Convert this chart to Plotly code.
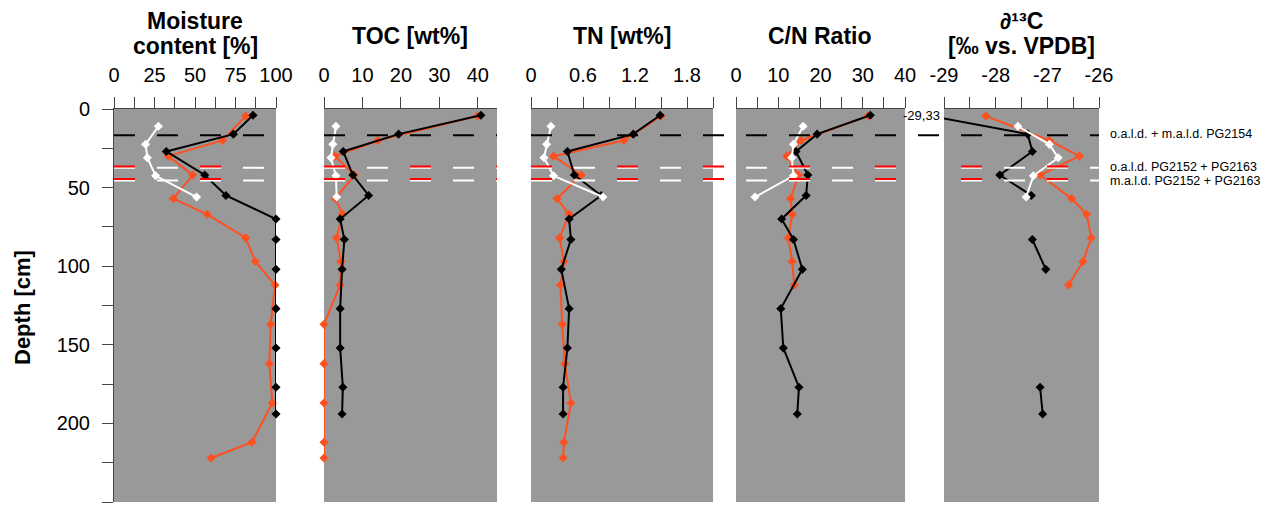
import plotly.graph_objects as go

# ---------------- data ----------------
depth_black = [4, 16, 27, 42, 55, 70, 83, 102, 127, 152, 177, 194]
depth_orange = [4.5, 20, 30, 42, 57, 67, 82, 97, 112, 137, 162, 187, 212, 222]
depth_white = [11, 22.5, 31, 42.5, 56]

moist_black = [85.8, 73.7, 32.3, 56.0, 69.1, 100, 100, 100, 100, 100, 100, 100]
moist_orange = [81.3, 66.9, 33.5, 48.6, 36.6, 57.6, 81.3, 87.2, 99.4, 96.7, 95.9, 97.7, 85.2, 59.9]
moist_white = [27.4, 19.5, 20.6, 25.7, 51.0]

toc_black = [40.8, 19.4, 5.0, 7.5, 11.6, 4.2, 5.3, 4.7, 4.2, 4.2, 4.9, 4.7]
toc_orange = [39.9, 14.0, 2.9, 7.9, 3.0, 4.8, 3.3, 4.4, 4.2, 0, 0, 0, 0, 0]
toc_white = [3.1, 2.3, 1.8, 3.1, 3.3]

tn_black = [1.49, 1.18, 0.42, 0.50, 0.81, 0.44, 0.46, 0.35, 0.44, 0.42, 0.37, 0.37]
tn_orange = [1.50, 1.07, 0.26, 0.58, 0.30, 0.44, 0.33, 0.38, 0.34, 0.36, 0.39, 0.46, 0.38, 0.37]
tn_white = [0.23, 0.18, 0.15, 0.26, 0.83]

cn_black = [31.8, 19.2, 14.2, 17.0, 16.6, 10.8, 13.6, 15.7, 10.6, 11.2, 14.9, 14.5]
cn_orange = [31.2, 15.4, 12.0, 14.8, 12.9, 13.3, 12.4, 13.3, 13.8, None, None, None, None, None]
cn_white = [15.9, 13.6, 13.2, 13.6, 4.5]

d13c_black = [-29.33, -27.38, -27.29, -27.92, -27.31, None, -27.29, -27.03, None, None, -27.14, -27.09]
d13c_orange = [-28.19, -26.96, -26.38, -27.14, -26.53, -26.24, -26.15, -26.31, -26.59, None, None, None, None, None]
d13c_white = [-27.57, -26.96, -26.79, -27.27, -27.41]

panel_titles = [["Moisture", "content [%]"], ["TOC [wt%]"], ["TN [wt%]"], ["C/N Ratio"],
                ["∂¹³C", "[‰ vs. VPDB]"]]
x_ranges = [[0, 100], [0, 45], [0, 2.1], [0, 40], [-29, -26]]
x_tickvals = [[0, 25, 50, 75, 100], [0, 10, 20, 30, 40], [0, 0.6, 1.2, 1.8], [0, 10, 20, 30, 40],
              [-29, -28, -27, -26]]
x_ticktext = [["0", "25", "50", "75", "100"], ["0", "10", "20", "30", "40"], ["0", "0.6", "1.2", "1.8"],
              ["0", "10", "20", "30", "40"], ["-29", "-28", "-27", "-26"]]
x_minor = [12.5, None, 0.3, 5, 0.5]
depth_tickvals = [0, 50, 100, 150, 200, 250]

boundary_black_depth = [16.7]
boundary_white_depth = [37.4, 45.5]
boundary_red_depth = [36.5, 44.6]
boundary_labels = ["o.a.l.d. + m.a.l.d. PG2154", "o.a.l.d. PG2152 + PG2163", "m.a.l.d. PG2152 + PG2163"]
offscale_label = "-29,33"

# ---------------- layout geometry (pixels) ----------------
W, H = 1270, 510
panels_px = [(114, 276), (324, 497), (531, 713), (736, 905), (944, 1099)]
y_top, y_bot = 109, 502
FONT = "Liberation Sans, Arial, sans-serif"
ORANGE = "#FF5020"
BG = "#999999"
AXC = "#444444"

fig = go.Figure()

series = [
    (moist_black, moist_orange, moist_white),
    (toc_black, toc_orange, toc_white),
    (tn_black, tn_orange, tn_white),
    (cn_black, cn_orange, cn_white),
    (d13c_black, d13c_orange, d13c_white),
]

for i, (blk, org, wht) in enumerate(series):
    n = i + 1
    xa = "x" if n == 1 else f"x{n}"
    ya = "y" if n == 1 else f"y{n}"
    clip_black = (n == 5)
    fig.add_trace(go.Scatter(x=org, y=depth_orange, xaxis=xa, yaxis=ya, mode="lines+markers",
                             line=dict(color=ORANGE, width=2), connectgaps=False,
                             marker=dict(symbol="diamond", size=7, color=ORANGE),
                             cliponaxis=False, hoverinfo="skip"))
    fig.add_trace(go.Scatter(x=blk, y=depth_black, xaxis=xa, yaxis=ya, mode="lines+markers",
                             line=dict(color="black", width=2), connectgaps=False,
                             marker=dict(symbol="diamond", size=7, color="black"),
                             cliponaxis=clip_black, hoverinfo="skip"))
    fig.add_trace(go.Scatter(x=wht, y=depth_white, xaxis=xa, yaxis=ya, mode="lines+markers",
                             line=dict(color="white", width=2),
                             marker=dict(symbol="diamond", size=7, color="white"),
                             cliponaxis=False, hoverinfo="skip"))

layout = dict(width=W, height=H, margin=dict(l=0, r=0, t=0, b=0, autoexpand=False),
              paper_bgcolor="white", plot_bgcolor=BG, showlegend=False,
              font=dict(family=FONT, size=20, color="black"))

ydom = [1 - y_bot / H, 1 - y_top / H]
for i in range(5):
    n = i + 1
    xk = "xaxis" if n == 1 else f"xaxis{n}"
    yk = "yaxis" if n == 1 else f"yaxis{n}"
    ya = "y" if n == 1 else f"y{n}"
    xa = "x" if n == 1 else f"x{n}"
    x0, x1 = panels_px[i]
    xax = dict(domain=[x0 / W, x1 / W], range=x_ranges[i], side="top", anchor=ya, automargin=False,
               showgrid=False, zeroline=False, showline=True, linecolor=AXC, linewidth=1,
               ticks="outside", ticklen=11, tickcolor=AXC, tickwidth=1,
               tickmode="array", tickvals=x_tickvals[i], ticktext=x_ticktext[i],
               tickfont=dict(size=20, family=FONT, color="black"), ticklabelstandoff=7)
    if x_minor[i]:
        xax["minor"] = dict(dtick=x_minor[i], tick0=x_ranges[i][0], ticks="outside", ticklen=11,
                            tickcolor=AXC, tickwidth=1, showgrid=False)
    layout[xk] = xax
    yax = dict(domain=ydom, range=[250, 0], anchor=xa, showgrid=False, zeroline=False, automargin=False)
    if n == 1:
        yax.update(showline=True, linecolor=AXC, linewidth=1, ticks="outside", ticklen=11, tickcolor=AXC,
                   tickmode="array", tickvals=depth_tickvals,
                   tickfont=dict(size=20, family=FONT, color="black"),
                   ticklabelstandoff=8,
                   minor=dict(dtick=25, tick0=0, ticks="outside", ticklen=11, tickcolor=AXC, showgrid=False))
    else:
        yax.update(showticklabels=False, ticks="")
    layout[yk] = yax

fig.update_layout(**layout)

# ---------------- boundary dashed lines ----------------
segments = [(114, 276), (324, 497), (531, 1099)]
shapes = []

def frac(d):
    return 1 - d / 250.0

for (s0, s1) in segments:
    for d in boundary_black_depth:
        shapes.append(dict(type="line", xref="paper", yref="y domain", x0=s0 / W, x1=s1 / W,
                           y0=frac(d), y1=frac(d), line=dict(color="black", width=2, dash="21px,22px")))
    for d in boundary_white_depth:
        shapes.append(dict(type="line", xref="paper", yref="y domain", x0=s0 / W, x1=s1 / W,
                           y0=frac(d), y1=frac(d), line=dict(color="white", width=2, dash="21px,22px")))
    for d in boundary_red_depth:
        shapes.append(dict(type="line", xref="paper", yref="y domain", x0=s0 / W, x1=s1 / W,
                           y0=frac(d), y1=frac(d), line=dict(color="#FF0000", width=2, dash="21px,65px")))
fig.update_layout(shapes=shapes)

# ---------------- text ----------------
ann = []
title_centers = [195, 410, 622, 820, 1021]
for i, lines in enumerate(panel_titles):
    cx = title_centers[i] / W
    if len(lines) == 2:
        ys = [21, 46]
    else:
        ys = [36]
    for txt, yy in zip(lines, ys):
        ann.append(dict(text=f"<b>{txt}</b>", x=cx, y=1 - yy / H, xref="paper", yref="paper",
                        xanchor="center", yanchor="middle", showarrow=False,
                        font=dict(size=23, family=FONT, color="black")))

ann.append(dict(text="<b>Depth [cm]</b>", x=22 / W, y=1 - 308 / H, xref="paper", yref="paper",
                xanchor="center", yanchor="middle", textangle=-90, showarrow=False,
                font=dict(size=22, family=FONT, color="black")))

ann.append(dict(text=offscale_label, x=942 / W, y=1 - 116 / H, xref="paper", yref="paper",
                xanchor="right", yanchor="middle", showarrow=False,
                font=dict(size=13, family=FONT, color="black")))

label_y = [134, 167, 181]
for txt, yy in zip(boundary_labels, label_y):
    ann.append(dict(text=txt, x=1108 / W, y=1 - yy / H, xref="paper", yref="paper",
                    xanchor="left", yanchor="middle", showarrow=False,
                    font=dict(size=12.5, family=FONT, color="black")))

fig.update_layout(annotations=ann)

fig.write_html("out.html")
